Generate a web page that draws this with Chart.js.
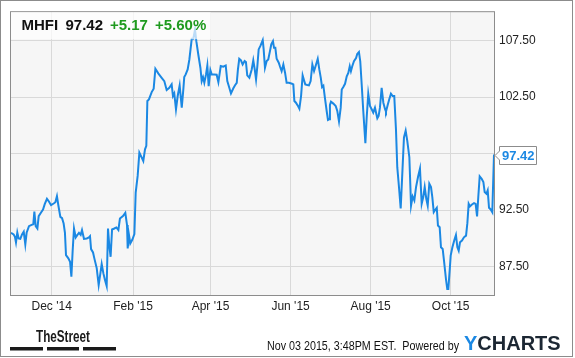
<!DOCTYPE html>
<html>
<head>
<meta charset="utf-8">
<script src="https://cdn.jsdelivr.net/npm/chart.js@4.4.1/dist/chart.umd.min.js"></script>
<style>
  html, body { margin: 0; padding: 0; background: #fff; }
  #caixa { width: 575px; height: 358px; }
</style>
</head>
<body>
<div id="caixa"><canvas id="myChart" width="575" height="358"></canvas></div>
<script>
// dias contados a partir de 31/10/2014
const dias = [
  0, 2, 3, 3.8, 4.8, 5.8, 7.1, 8.4, 9.7, 10.9, 11.9, 13.7, 15.7, 17, 17.8, 18.8, 20.1, 21.1, 22.9, 24.4,
  25.7, 27.4, 29, 30.5, 32.5, 33.8, 35, 36.1, 37.6, 38.9, 40.1, 41.1, 41.9, 43.7, 45, 46, 47, 48, 49.3, 50.5,
  51.8, 53.1, 54.1, 55.6, 57.7, 59.4, 60.2, 61, 62.5, 63.5, 65.3, 66.8, 68.1, 69.1, 70.4, 71.6, 72.9, 73.9, 74.9, 75.9,
  77, 78.7, 80.3, 81.8, 83, 85.3, 87.1, 88.4, 88.9, 89.9, 90.9, 92.4, 94, 95, 96.5, 97.8, 99.6, 100.8, 102.1, 103.1,
  103.9, 105.1, 107.2, 108.7, 110, 112.2, 114.8, 116.8, 118.6, 120.6, 122.4, 123.4, 124.4, 125.7, 127, 128.5, 130.1, 131.3, 132, 133.1,
  134.6, 135.9, 137.7, 138.9, 140.2, 141.2, 142.7, 144.3, 145.3, 146.3, 147.3, 148.6, 149.6, 150.6, 151.9, 152.9, 154.9, 156.7, 158, 159.8,
  161.8, 163.6, 164.8, 166.1, 167.6, 169.4, 170.7, 172, 172.9, 173.9, 175.2, 176.5, 178, 179, 180, 181.6, 183.4, 184.6, 185.7, 186.7,
  187.7, 188.7, 190.2, 191.8, 192.5, 193.5, 194.8, 196, 197.3, 198.3, 199.6, 200.4, 201.4, 202.4, 204, 205, 206.2, 207.5, 208.8, 210,
  211.8, 214.1, 215.1, 215.9, 217.1, 218.4, 219.7, 221, 222.2, 223.2, 224.2, 225.8, 227, 228.3, 229.6, 230.9, 232.2, 233.7, 234.9, 236,
  237, 238, 239.2, 240.6, 241.5, 242.3, 243, 243.8, 245.6, 247.4, 248.6, 249.9, 251.2, 252, 253.2, 254.5, 255.8, 257, 258.1, 259,
  260, 261.3, 262.9, 263.8, 265.1, 266.1, 267.2, 268.4, 270, 271, 272.2, 273.5, 274.8, 276, 277.3, 278.1, 279.1, 280.1, 281.1, 282.4,
  283.7, 285, 285.7, 287, 288.2, 289.5, 290.8, 292, 293.3, 294.3, 295.6, 296.9, 297.9, 299.4, 300.7, 301.9, 303.5, 304.8, 306, 307.3,
  308.6, 310.1, 311.6, 312.9, 314.1, 315.2, 316.4, 317.5, 318.7, 320, 321, 322.1, 323.3, 324.4, 325.3, 326.6, 327.6, 328.9, 329.9, 331.4,
  332.4, 333.2, 334.3, 335, 336.3, 337.8, 339, 340.1, 341.1, 342.1, 343.6, 345.1, 346.7, 347.7, 348.7, 349.7, 351.2, 352.8, 354, 355.1,
  356.1, 357.1, 358.6, 359.9, 360.9, 362.2, 363.2, 364.2, 365.5, 366.7, 368
];
const precos = [
  90.5, 90.35, 90.15, 89.65, 90.53, 90.0, 89.97, 90.35, 90.6, 89.47, 90.5, 91.09, 91.2, 91.26, 92.38, 91.09, 90.88, 91.97, 92.3, 92.56,
  93.03, 93.5, 93.24, 92.94, 93.09, 93.2, 93.74, 92.91, 91.91, 91.79, 91.32, 90.5, 88.53, 88.24, 87.94, 86.62, 88.97, 90.88, 90.09, 90.29,
  90.5, 90.32, 90.74, 89.97, 90.0, 90.09, 90.2, 89.06, 88.76, 88.24, 87.38, 85.88, 86.91, 87.74, 86.91, 86.32, 85.79, 90.88, 89.32, 88.38,
  90.79, 90.88, 90.97, 90.74, 91.76, 91.97, 92.26, 91.18, 89.12, 90.29, 89.56, 89.88, 90.38, 94.06, 95.53, 97.59, 97.15, 96.85, 97.88, 98.18,
  102.15, 102.29, 102.94, 103.24, 105.0, 104.59, 104.2, 103.91, 103.12, 103.32, 103.62, 102.59, 102.82, 101.41, 102.59, 103.53, 101.56, 103.18, 104.26, 104.5,
  104.94, 105.82, 107.65, 107.65, 108.47, 107.44, 106.26, 105.09, 103.91, 104.26, 103.76, 104.5, 105.29, 103.47, 104.88, 104.5, 104.5, 104.47, 103.82, 105.24,
  105.18, 105.29, 103.91, 103.41, 102.82, 103.28, 103.55, 103.76, 104.94, 105.88, 105.74, 105.38, 105.68, 105.59, 104.41, 104.21, 104.94, 105.74, 104.94, 104.06,
  105.24, 106.71, 107.06, 107.53, 106.71, 105.09, 105.68, 105.82, 106.56, 107.15, 107.44, 106.85, 106.85, 105.88, 105.53, 105.18, 104.79, 105.38, 104.65, 103.76,
  103.76, 103.68, 103.62, 102.15, 102.0, 101.76, 101.47, 102.59, 104.41, 104.0, 103.62, 103.56, 103.53, 103.91, 105.38, 104.79, 105.29, 105.88, 104.94, 104.21,
  103.38, 103.5, 102.4, 101.2, 100.48, 100.53, 101.8, 102.09, 101.92, 101.71, 101.27, 100.34, 101.56, 103.17, 103.38, 103.67, 104.34, 104.63, 105.22, 104.78,
  105.22, 105.66, 105.95, 106.3, 106.48, 105.66, 103.61, 101.27, 98.41, 100.69, 102.79, 101.71, 101.42, 101.13, 101.56, 101.13, 100.63, 100.83, 101.56, 103.32,
  102.0, 101.42, 101.21, 101.8, 102.3, 102.79, 102.59, 102.59, 99.66, 96.3, 94.55, 92.65, 95.13, 98.93, 99.52, 98.64, 97.18, 92.91, 93.71, 93.36,
  94.54, 95.43, 96.17, 93.06, 93.65, 94.54, 93.51, 92.91, 94.84, 94.54, 93.65, 92.32, 92.53, 92.71, 91.14, 90.99, 89.22, 89.07, 88.03, 86.41,
  85.52, 85.52, 87.29, 88.48, 89.22, 89.87, 90.31, 89.22, 88.92, 89.66, 89.81, 90.1, 90.25, 91.35, 93.06, 92.83, 93.0, 93.12, 93.06, 91.94,
  93.8, 95.49, 95.28, 94.99, 94.1, 93.95, 94.25, 92.71, 92.56, 92.32, 97.42
];

// eixo x: inicio de cada mes (em dias) e rotulos
const mesesDias = [31, 93, 152, 213, 274, 335];
const mesesLabels = ["Dec '14", "Feb '15", "Apr '15", "Jun '15", "Aug '15", "Oct '15"];
const precoTicks = [87.5, 92.5, 97.5, 102.5, 107.5];

const ticker = 'MHFI';
const ultimoPreco = '97.42';
const variacao = '+5.17';
const variacaoPct = '+5.60%';
const dataHora = 'Nov 03 2015, 3:48PM EST.  Powered by';

const FONTE = "'Liberation Sans', Arial, sans-serif";
const AZUL = '#1b88e3';

// fundo cinza da area do grafico
const fundoPlugin = {
  id: 'fundo',
  beforeDraw(chart) {
    const a = chart.chartArea;
    const ctx = chart.ctx;
    ctx.save();
    ctx.fillStyle = '#f6f6f6';
    ctx.fillRect(a.left, a.top, a.right - a.left, a.bottom - a.top);
    ctx.restore();
  }
};

// cabecalho, etiqueta do preco, moldura e rodape
const extrasPlugin = {
  id: 'extras',
  afterDraw(chart) {
    const ctx = chart.ctx;
    const a = chart.chartArea;
    ctx.save();

    // moldura do grafico
    ctx.strokeStyle = '#8c8c8c';
    ctx.lineWidth = 1;
    ctx.strokeRect(a.left - 0.5, a.top - 0.5, a.right - a.left + 1, a.bottom - a.top + 1);

    // caixa do cabecalho
    ctx.fillStyle = 'rgba(255,255,255,0.7)';
    ctx.fillRect(a.left, a.top, 200, 27);
    ctx.font = 'bold 15px ' + FONTE;
    ctx.textBaseline = 'alphabetic';
    ctx.fillStyle = '#111';
    ctx.fillText(ticker, 21.5, 29.5);
    ctx.fillText(ultimoPreco, 65.5, 29.5);
    ctx.fillStyle = '#1f9a1f';
    ctx.fillText(variacao, 110, 29.5);
    ctx.fillText(variacaoPct, 155, 29.5);

    // etiqueta do ultimo preco
    const ys = chart.scales.y;
    const yUlt = Math.round(ys.getPixelForValue(precos[precos.length - 1])) + 0.5;
    ctx.beginPath();
    ctx.moveTo(495, yUlt);
    ctx.lineTo(499.5, yUlt - 4.5);
    ctx.lineTo(499.5, yUlt - 9);
    ctx.lineTo(536.5, yUlt - 9);
    ctx.lineTo(536.5, yUlt + 9);
    ctx.lineTo(499.5, yUlt + 9);
    ctx.lineTo(499.5, yUlt + 4.5);
    ctx.closePath();
    ctx.fillStyle = '#fff';
    ctx.fill();
    ctx.strokeStyle = '#8c8c8c';
    ctx.stroke();
    ctx.fillStyle = AZUL;
    ctx.font = 'bold 13px ' + FONTE;
    ctx.textBaseline = 'middle';
    ctx.fillText(ultimoPreco, 502, yUlt + 0.5);

    // moldura externa
    ctx.strokeStyle = '#8c8c8c';
    ctx.strokeRect(0.5, 0.5, 572, 356);

    // rodape: TheStreet
    ctx.fillStyle = '#1a1a1a';
    ctx.textBaseline = 'alphabetic';
    ctx.font = "bold 16px 'Liberation Sans Narrow', 'Liberation Sans', Arial, sans-serif";
    ctx.fillText('TheStreet', 36, 341.5, 54);
    ctx.fillRect(10, 347, 33, 3.5);
    ctx.fillRect(47, 347, 32, 3.5);
    ctx.fillRect(83, 347, 33, 3.5);

    // data e "Powered by"
    ctx.font = '12px ' + FONTE;
    ctx.fillStyle = '#111';
    ctx.textAlign = 'right';
    ctx.fillText(dataHora, 459, 349.5, 192);

    // logo YCHARTS
    ctx.textAlign = 'left';
    ctx.font = 'bold 20px ' + FONTE;
    ctx.fillStyle = AZUL;
    ctx.fillText('Y', 464, 349.5);
    const wY = ctx.measureText('Y').width;
    ctx.fillStyle = '#1c2733';
    ctx.fillText('CHARTS', 464 + wY, 349.5, 563 - 464 - wY);

    ctx.restore();
  }
};

const ctx = document.getElementById('myChart');

new Chart(ctx, {
  type: 'line',
  data: {
    datasets: [{
      data: dias.map((d, i) => ({ x: d, y: precos[i] })),
      borderColor: AZUL,
      borderWidth: 2,
      pointRadius: 0,
      tension: 0,
      fill: false
    }]
  },
  options: {
    responsive: false,
    animation: false,
    layout: { padding: { left: 11, top: 11, right: 0, bottom: 0 } },
    plugins: { legend: { display: false }, tooltip: { enabled: false } },
    scales: {
      x: {
        type: 'linear',
        min: 0,
        max: 368,
        afterBuildTicks: s => { s.ticks = mesesDias.map(v => ({ value: v })); },
        afterFit: s => { s.height = 63; },
        ticks: {
          callback: (v, i) => mesesLabels[i],
          color: '#222',
          font: { size: 12, family: FONTE },
          padding: 4,
          maxRotation: 0,
          autoSkip: false
        },
        grid: { color: '#d9d9d9', drawTicks: false },
        border: { display: false }
      },
      y: {
        position: 'right',
        min: 85,
        max: 110,
        afterBuildTicks: s => { s.ticks = precoTicks.map(v => ({ value: v })); },
        afterFit: s => { s.width = 81; },
        ticks: {
          callback: v => (v === 97.5 ? '' : v.toFixed(2)),
          color: '#222',
          font: { size: 12, family: FONTE },
          padding: 5
        },
        grid: { color: '#d9d9d9', drawTicks: false },
        border: { display: false }
      }
    }
  },
  plugins: [fundoPlugin, extrasPlugin]
});
</script>
</body>
</html>
